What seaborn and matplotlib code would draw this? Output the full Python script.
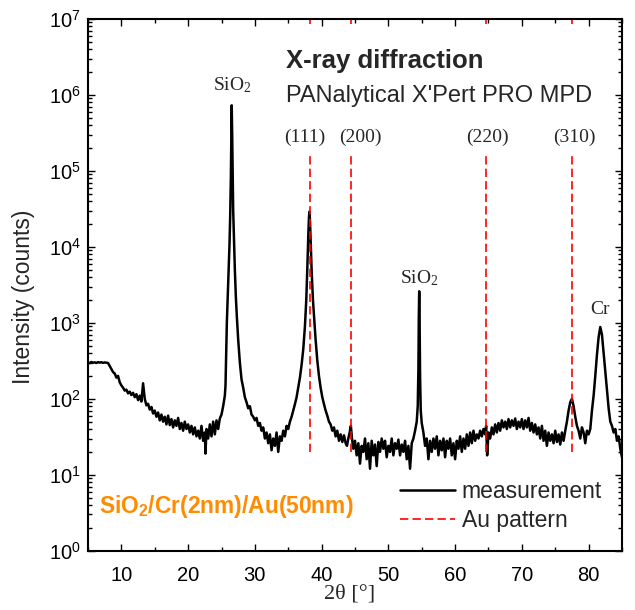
import matplotlib
matplotlib.use("Agg")
import matplotlib.pyplot as plt
import seaborn as sns

# XRD scan of SiO2/Cr(2nm)/Au(50nm)
two_theta = [
    5.0, 5.25, 5.5, 5.75, 6.0, 6.25, 6.5, 6.75, 7.0, 7.25,
    7.5, 7.75, 8.0, 8.25, 8.5, 8.75, 9.0, 9.25, 9.5, 9.75,
    10.0, 10.25, 10.5, 10.75, 11.0, 11.25, 11.5, 11.75, 12.0, 12.25,
    12.5, 12.75, 13.0, 13.25, 13.5, 13.75, 14.0, 14.25, 14.5, 14.75,
    15.0, 15.25, 15.5, 15.75, 16.0, 16.25, 16.5, 16.75, 17.0, 17.25,
    17.5, 17.75, 18.0, 18.25, 18.5, 18.75, 19.0, 19.25, 19.5, 19.75,
    20.0, 20.25, 20.5, 20.75, 21.0, 21.25, 21.5, 21.75, 22.0, 22.25,
    22.5, 22.6, 22.75, 23.0, 23.25, 23.5, 23.75, 24.0, 24.25, 24.5,
    24.75, 25.0, 25.25, 25.5, 25.6, 25.7, 25.8, 25.9, 26.0, 26.1,
    26.2, 26.3, 26.4, 26.47, 26.53, 26.6, 26.67, 26.75, 26.85, 27.0,
    27.15, 27.3, 27.5, 27.75, 28.0, 28.25, 28.5, 28.75, 29.0, 29.25,
    29.5, 29.75, 30.0, 30.25, 30.5, 30.75, 31.0, 31.25, 31.5, 31.75,
    32.0, 32.25, 32.5, 32.75, 33.0, 33.25, 33.5, 33.75, 34.0, 34.25,
    34.5, 34.75, 35.0, 35.25, 35.5, 35.75, 36.0, 36.25, 36.5, 36.75,
    37.0, 37.25, 37.5, 37.7, 37.85, 38.0, 38.1, 38.17, 38.25, 38.35,
    38.5, 38.7, 38.9, 39.1, 39.35, 39.6, 39.85, 40.1, 40.35, 40.6,
    40.85, 41.1, 41.35, 41.6, 41.85, 42.1, 42.35, 42.6, 42.85, 43.1,
    43.35, 43.6, 43.8, 44.0, 44.2, 44.38, 44.55, 44.75, 45.0, 45.25,
    45.5, 45.75, 46.0, 46.25, 46.5, 46.75, 47.0, 47.25, 47.5, 47.75,
    48.0, 48.25, 48.5, 48.75, 49.0, 49.25, 49.5, 49.75, 50.0, 50.25,
    50.5, 50.75, 51.0, 51.25, 51.5, 51.75, 52.0, 52.25, 52.5, 52.75,
    53.0, 53.25, 53.5, 53.75, 54.0, 54.25, 54.4, 54.5, 54.56, 54.62,
    54.68, 54.75, 54.85, 55.0, 55.25, 55.5, 55.75, 56.0, 56.25, 56.5,
    56.75, 57.0, 57.25, 57.5, 57.75, 58.0, 58.25, 58.5, 58.75, 59.0,
    59.25, 59.5, 59.75, 60.0, 60.25, 60.5, 60.75, 61.0, 61.25, 61.5,
    61.75, 62.0, 62.25, 62.5, 62.75, 63.0, 63.25, 63.5, 63.75, 64.0,
    64.25, 64.5, 64.65, 64.8, 65.0, 65.25, 65.5, 65.75, 66.0, 66.25,
    66.5, 66.75, 67.0, 67.25, 67.5, 67.75, 68.0, 68.25, 68.5, 68.75,
    69.0, 69.25, 69.5, 69.75, 70.0, 70.25, 70.5, 70.75, 71.0, 71.25,
    71.5, 71.75, 72.0, 72.25, 72.5, 72.75, 73.0, 73.25, 73.5, 73.75,
    74.0, 74.25, 74.5, 74.75, 75.0, 75.25, 75.5, 75.75, 76.0, 76.25,
    76.5, 76.75, 77.0, 77.25, 77.5, 77.75, 78.0, 78.25, 78.5, 78.75,
    79.0, 79.25, 79.5, 79.75, 80.0, 80.25, 80.5, 80.75, 81.0, 81.25,
    81.5, 81.75, 82.0, 82.25, 82.5, 82.75, 83.0, 83.25, 83.5, 83.75,
    84.0, 84.25, 84.5, 84.75, 85.0,
]
counts = [
    300, 295, 305, 298, 302, 296, 304, 299, 303, 297,
    301, 298, 296, 270, 245, 225, 215, 190, 200, 165,
    150, 140, 128, 132, 118, 124, 112, 120, 105, 115,
    96, 110, 92, 160, 100, 82, 86, 72, 78, 64,
    70, 58, 66, 52, 62, 50, 58, 46, 60, 45,
    54, 42, 52, 44, 56, 40, 48, 38, 50, 40,
    46, 36, 44, 34, 42, 32, 38, 30, 44, 28,
    36, 19, 40, 30, 46, 32, 50, 34, 52, 40,
    55, 62, 80, 110, 150, 400, 1000, 1800, 3000, 5500,
    11000, 25000, 80000, 250000, 730000, 300000, 90000, 30000, 14000, 5000,
    2200, 1200, 600, 300, 180, 140, 105, 90, 75, 80,
    62, 58, 52, 56, 44, 48, 38, 42, 30, 36,
    26, 34, 21, 30, 24, 36, 20, 32, 28, 38,
    32, 44, 40, 50, 58, 70, 85, 105, 140, 190,
    280, 450, 900, 2000, 5000, 14000, 24000, 29000, 23000, 12000,
    5000, 2000, 1100, 600, 320, 200, 140, 105, 85, 70,
    60, 50, 46, 38, 42, 32, 38, 28, 34, 27,
    33, 26, 24, 30, 36, 44, 30, 22, 28, 18,
    26, 14, 24, 20, 30, 16, 26, 12, 28, 18,
    25, 13, 27, 20, 30, 22, 28, 17, 24, 20,
    30, 18, 26, 22, 29, 18, 25, 20, 28, 16,
    24, 12, 26, 30, 38, 50, 80, 250, 1200, 2600,
    1100, 200, 70, 48, 36, 24, 30, 16, 28, 20,
    30, 22, 32, 18, 28, 21, 30, 17, 28, 22,
    30, 18, 26, 16, 28, 22, 32, 20, 30, 22,
    34, 24, 36, 26, 38, 28, 34, 30, 38, 32,
    40, 34, 44, 18, 36, 30, 42, 34, 46, 36,
    48, 38, 52, 42, 50, 40, 54, 42, 52, 44,
    55, 40, 50, 42, 54, 40, 52, 42, 56, 38,
    48, 36, 46, 34, 42, 30, 44, 28, 38, 24,
    36, 28, 34, 26, 38, 27, 34, 25, 36, 28,
    38, 50, 70, 90, 100, 80, 58, 44, 38, 30,
    42, 36, 26, 38, 34, 40, 70, 110, 200, 380,
    650, 880, 700, 400, 230, 130, 75, 50, 44, 36,
    40, 28, 32, 22, 17,
]
assert len(two_theta) == len(counts)

# Au reference reflections
au_peaks = [38.2, 44.4, 64.6, 77.5]
au_hkl = ["(111)", "(200)", "(220)", "(310)"]
au_label_x = [37.4, 45.75, 64.9, 77.8]

# other peak labels: text, x position, y position (axes fraction)
peak_text = ["SiO$_2$", "SiO$_2$", "Cr"]
peak_x = [26.57, 54.69, 81.7]
peak_y = [0.8665, 0.503, 0.445]

sns.set_style("ticks")
plt.rcParams["font.family"] = ["Liberation Sans", "DejaVu Sans"]
plt.rcParams["mathtext.default"] = "regular"
serif = ["Liberation Serif", "DejaVu Serif"]

fig = plt.figure(figsize=(6.35, 6.10), dpi=100)
ax = fig.add_axes([0.1386, 0.0972, 0.8409, 0.8717])

sns.lineplot(x=two_theta, y=counts, color="black", lw=1.8, ax=ax,
             label="measurement", sort=False)
ax.vlines(au_peaks, 20, 1.7e5, colors="#ff0000", linestyles=(0, (5, 2.5)),
          lw=1.2, label="Au pattern")
ax.vlines(au_peaks, 8.6e6, 1e7, colors="#ff0000", lw=1.2)

ax.set_yscale("log")
ax.set_xlim(5, 85)
ax.set_ylim(1, 1e7)
ax.set_xticks([10, 20, 30, 40, 50, 60, 70, 80])
ax.set_xticks([5, 15, 25, 35, 45, 55, 65, 75, 85], minor=True)

for s in ax.spines.values():
    s.set_linewidth(1.5)
    s.set_color("black")
ax.tick_params(which="both", direction="in", top=True, right=True,
               width=1.0, colors="black", labelsize=14.5, pad=5)
ax.tick_params(which="major", length=5)
ax.tick_params(which="minor", length=3)
ax.tick_params(axis="x", pad=11)

ax.set_ylabel("Intensity (counts)", fontsize=16.5)
ax.yaxis.set_label_coords(-0.099, 0.477)
ax.set_xlabel("2θ [°]", fontsize=16, family=serif)
ax.xaxis.set_label_coords(0.489, -0.063)

ax.text(0.371, 0.907, "X-ray diffraction", transform=ax.transAxes,
        fontsize=18.5, fontweight="bold", va="baseline")
ax.text(0.371, 0.8445, "PANalytical X'Pert PRO MPD", transform=ax.transAxes,
        fontsize=17, va="baseline")
for lab, xx in zip(au_hkl, au_label_x):
    ax.text(xx, 0.7687, lab, transform=ax.get_xaxis_transform(),
            ha="center", va="baseline", fontsize=14, family=serif)
for lab, xx, yy in zip(peak_text, peak_x, peak_y):
    ax.text(xx, yy, lab, transform=ax.get_xaxis_transform(),
            ha="center", va="baseline", fontsize=14, family=serif)
ax.text(0.0206, 0.0703, "SiO$_2$/Cr(2nm)/Au(50nm)", transform=ax.transAxes,
        fontsize=16.4, fontweight="bold", color="#ff8c00", va="baseline")

ax.legend(loc="upper left", bbox_to_anchor=(0.584, 0.133), frameon=False,
          fontsize=16.5, borderpad=0, borderaxespad=0, handlelength=2.4,
          handletextpad=0.3, labelspacing=0.26)

fig.savefig("out.png", dpi=100)
